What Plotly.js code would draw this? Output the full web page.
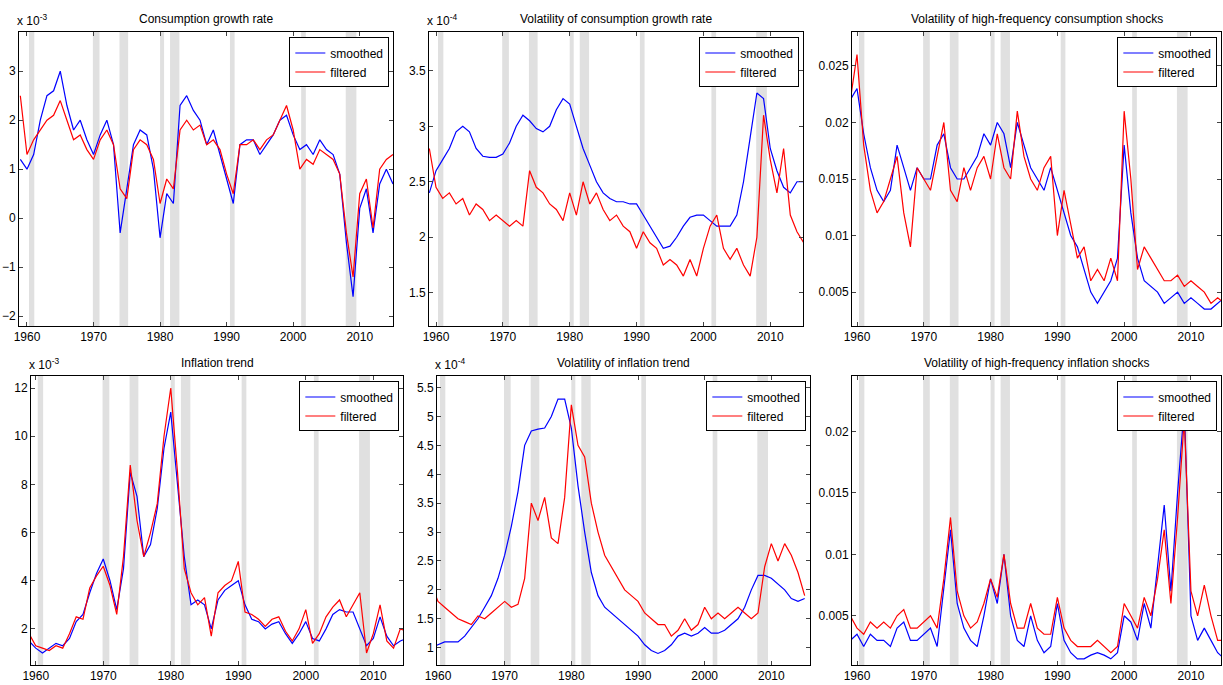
<!DOCTYPE html>
<html lang="en">
<head>
    <meta charset="UTF-8">
    <title>Volatility panels</title>
    <script src="https://cdn.plot.ly/plotly-3.0.1.min.js"></script>
    <style>body{margin:0;background:#fff}</style>
</head>
<body>
<div id="plot" style="width:1223px;height:685px"></div>
<script>
    years = []
    for (let y = 1959; y <= 2015; y++) years.push(y)

    recessions = [[1960.3, 1961.1], [1969.9, 1970.9], [1973.9, 1975.2], [1980.0, 1980.6], [1981.5, 1982.9], [1990.5, 1991.2], [2001.2, 2001.9], [2007.9, 2009.5]]

    titles = ['Consumption growth rate', 'Volatility of consumption growth rate', 'Volatility of high-frequency consumption shocks',
        'Inflation trend', 'Volatility of inflation trend', 'Volatility of high-frequency inflation shocks']
    scaleLabels = ['x 10<sup>-3</sup>', 'x 10<sup>-4</sup>', '', 'x 10<sup>-3</sup>', 'x 10<sup>-4</sup>', '']

    consSmoothed = [1.2,1.0,1.3,2.0,2.5,2.6,3.0,2.3,1.8,2.0,1.6,1.3,1.7,2.0,1.5,-0.3,0.6,1.5,1.8,1.7,1.0,-0.4,0.5,0.3,2.3,2.5,2.2,2.0,1.5,1.8,1.3,0.8,0.3,1.5,1.6,1.6,1.3,1.5,1.7,2.0,2.1,1.7,1.4,1.5,1.3,1.6,1.4,1.3,0.9,-0.5,-1.6,0.2,0.6,-0.3,0.7,1.0,0.7]
    consFiltered = [2.5,1.3,1.6,1.8,2.0,2.1,2.4,2.0,1.6,1.7,1.4,1.2,1.6,1.8,1.5,0.6,0.4,1.4,1.6,1.5,1.2,0.3,0.8,0.6,1.8,2.0,1.8,1.9,1.5,1.6,1.4,0.9,0.5,1.5,1.5,1.6,1.4,1.6,1.7,2.0,2.3,1.8,1.0,1.2,1.1,1.4,1.3,1.2,0.9,-0.3,-1.2,0.5,0.8,-0.2,1.0,1.2,1.3]
    consVolSmoothed = [2.4,2.6,2.7,2.8,2.95,3.0,2.95,2.8,2.73,2.72,2.72,2.75,2.85,3.0,3.1,3.05,2.98,2.95,3.0,3.15,3.25,3.2,3.0,2.8,2.65,2.5,2.4,2.35,2.32,2.32,2.3,2.3,2.2,2.1,2.0,1.9,1.92,2.0,2.1,2.18,2.2,2.2,2.15,2.1,2.1,2.1,2.2,2.5,2.9,3.3,3.25,2.8,2.6,2.45,2.4,2.5,2.5]
    consVolFiltered = [2.8,2.45,2.35,2.4,2.3,2.35,2.2,2.3,2.25,2.15,2.2,2.15,2.1,2.15,2.1,2.6,2.45,2.4,2.3,2.25,2.15,2.4,2.2,2.5,2.3,2.4,2.25,2.15,2.2,2.1,2.05,1.9,2.05,1.95,1.9,1.75,1.8,1.75,1.65,1.8,1.65,1.9,2.1,2.2,1.9,1.8,1.9,1.75,1.65,2.0,3.1,2.7,2.4,2.8,2.2,2.05,1.95]
    consHfSmoothed = [0.022,0.023,0.019,0.016,0.014,0.013,0.014,0.018,0.016,0.014,0.016,0.015,0.015,0.018,0.019,0.016,0.015,0.015,0.016,0.017,0.019,0.018,0.020,0.019,0.016,0.020,0.018,0.016,0.015,0.014,0.016,0.014,0.012,0.010,0.009,0.007,0.005,0.004,0.005,0.006,0.008,0.018,0.012,0.008,0.006,0.0055,0.005,0.004,0.0045,0.005,0.004,0.0045,0.004,0.0035,0.0035,0.004,0.0045]
    consHfFiltered = [0.022,0.026,0.018,0.014,0.012,0.013,0.015,0.017,0.012,0.009,0.016,0.015,0.014,0.017,0.020,0.014,0.013,0.016,0.014,0.016,0.017,0.015,0.019,0.016,0.015,0.021,0.017,0.015,0.014,0.016,0.017,0.010,0.014,0.011,0.008,0.009,0.006,0.007,0.006,0.008,0.006,0.021,0.015,0.007,0.009,0.008,0.007,0.006,0.006,0.0065,0.0055,0.006,0.0055,0.005,0.004,0.0045,0.004]
    inflSmoothed = [1.5,1.2,1.0,1.2,1.4,1.3,1.6,2.3,2.6,3.5,4.3,4.9,4.0,2.8,4.5,8.5,7.5,5.0,5.5,7.0,9.5,11.0,8.0,5.0,3.0,3.2,3.0,2.0,3.2,3.6,3.8,4.0,3.0,2.4,2.3,2.0,2.2,2.3,1.8,1.4,1.8,2.3,1.6,1.5,2.0,2.6,2.8,2.7,2.7,2.0,1.3,1.6,2.5,1.7,1.3,1.5,1.6]
    inflFiltered = [1.8,1.3,1.2,1.1,1.3,1.2,1.8,2.5,2.4,3.7,4.2,4.6,3.8,2.6,5.0,8.8,6.5,5.0,6.0,7.2,10.0,12.0,8.5,4.5,3.5,3.0,3.3,1.7,3.5,3.8,4.0,4.8,2.7,2.6,2.4,2.1,2.4,2.5,1.9,1.5,2.0,2.8,1.4,1.8,2.5,2.9,3.2,2.5,3.0,3.5,1.0,1.8,3.0,1.5,1.2,2.0,1.9]
    inflVolSmoothed = [1.0,1.05,1.1,1.1,1.1,1.2,1.35,1.5,1.7,1.9,2.2,2.6,3.1,3.7,4.5,4.75,4.78,4.8,5.0,5.3,5.3,4.8,3.8,3.0,2.3,1.9,1.7,1.6,1.5,1.4,1.3,1.2,1.05,0.95,0.9,0.95,1.05,1.2,1.25,1.2,1.25,1.35,1.25,1.25,1.3,1.4,1.5,1.7,2.0,2.25,2.25,2.2,2.1,2.0,1.85,1.8,1.85]
    inflVolFiltered = [2.1,1.8,1.7,1.6,1.5,1.45,1.4,1.55,1.5,1.6,1.7,1.8,1.7,1.75,2.2,3.5,3.2,3.6,2.9,2.8,3.6,5.2,4.5,4.3,3.5,3.0,2.6,2.4,2.2,2.0,1.9,1.8,1.6,1.5,1.4,1.4,1.2,1.3,1.5,1.3,1.4,1.7,1.5,1.6,1.5,1.6,1.7,1.6,1.5,1.6,2.4,2.8,2.5,2.8,2.6,2.3,1.9]
    inflHfSmoothed = [0.003,0.0035,0.0025,0.0035,0.003,0.003,0.0025,0.004,0.0045,0.003,0.003,0.0035,0.004,0.0025,0.007,0.012,0.006,0.004,0.003,0.0025,0.005,0.008,0.006,0.010,0.005,0.003,0.0025,0.005,0.003,0.002,0.0025,0.006,0.003,0.002,0.0015,0.0015,0.0018,0.002,0.0018,0.0015,0.002,0.005,0.0045,0.003,0.006,0.004,0.009,0.014,0.007,0.015,0.022,0.005,0.003,0.004,0.003,0.002,0.0015]
    inflHfFiltered = [0.005,0.004,0.0035,0.0045,0.004,0.0045,0.004,0.005,0.0055,0.004,0.004,0.0045,0.005,0.004,0.008,0.013,0.007,0.005,0.004,0.0045,0.006,0.008,0.0065,0.010,0.006,0.004,0.004,0.006,0.004,0.0035,0.0035,0.0065,0.004,0.003,0.0025,0.0025,0.0025,0.003,0.0025,0.002,0.0025,0.006,0.005,0.004,0.0065,0.005,0.008,0.012,0.006,0.013,0.021,0.007,0.005,0.0075,0.005,0.003,0.003]

    smoothedSets = [consSmoothed, consVolSmoothed, consHfSmoothed, inflSmoothed, inflVolSmoothed, inflHfSmoothed]
    filteredSets = [consFiltered, consVolFiltered, consHfFiltered, inflFiltered, inflVolFiltered, inflHfFiltered]
    yRanges = [[-2.2, 3.8], [1.2, 3.85], [0.002, 0.028], [0.5, 12.5], [0.7, 5.7], [0.001, 0.0245]]
    yDtick = [1, 0.5, 0.005, 2, 0.5, 0.005]
    xRanges = [[1958.8, 2015], [1958.95, 2014.9], [1959.25, 2014.5], [1959.3, 2014.4], [1959.85, 2015.8], [1959.25, 2014.5]]

    // panel boxes in pixels: left, right, top, bottom
    boxes = [[19, 393, 32, 326], [429, 803, 32, 326], [852, 1221, 32, 326],
        [31, 403, 376, 665], [437, 810, 376, 665], [852, 1221, 376, 665]]
    W = 1223; H = 685

    data = []
    layout = {
        width: W, height: H,
        margin: {l: 0, r: 0, t: 0, b: 0},
        paper_bgcolor: 'white', plot_bgcolor: 'white',
        font: {family: 'Liberation Sans, Arial', size: 12, color: 'black'},
        shapes: [], annotations: []
    }

    for (let i = 0; i < 6; i++) {
        const n = i === 0 ? '' : String(i + 1)
        const b = boxes[i]
        const xd = [b[0] / W, b[1] / W], yd = [1 - b[3] / H, 1 - b[2] / H]
        const lg = 'legend' + n
        data.push({x: years, y: smoothedSets[i], xaxis: 'x' + n, yaxis: 'y' + n, mode: 'lines', name: 'smoothed',
            line: {color: '#0000ff', width: 1.2}, legend: lg})
        data.push({x: years, y: filteredSets[i], xaxis: 'x' + n, yaxis: 'y' + n, mode: 'lines', name: 'filtered',
            line: {color: '#ff0000', width: 1.2}, legend: lg})

        const axCommon = {showline: true, mirror: 'ticks', linecolor: 'black', linewidth: 1, ticks: 'inside', ticklen: 4,
            showgrid: false, zeroline: false, tickfont: {size: 12}}
        layout['xaxis' + n] = Object.assign({}, axCommon, {domain: xd, range: xRanges[i], dtick: 10, tick0: 1960,
            anchor: 'y' + n})
        layout['yaxis' + n] = Object.assign({}, axCommon, {domain: yd, range: yRanges[i], dtick: yDtick[i],
            anchor: 'x' + n})
        layout[lg] = {x: xd[1] - 0.003, y: yd[1] - 0.008, xanchor: 'right', yanchor: 'top',
            bordercolor: 'black', borderwidth: 1, bgcolor: 'white', font: {size: 12},
            tracegroupgap: 0, itemwidth: 30}

        recessions.forEach(r => layout.shapes.push({type: 'rect', xref: 'x' + n, yref: 'y' + n + ' domain',
            x0: r[0], x1: r[1], y0: 0, y1: 1, fillcolor: '#e0e0e0', line: {width: 0}, layer: 'below'}))

        layout.annotations.push({text: titles[i], xref: 'paper', yref: 'paper', showarrow: false,
            x: (xd[0] + xd[1]) / 2, xanchor: 'center', y: yd[1] + 0.006, yanchor: 'bottom',
            font: {size: 12}})
        if (scaleLabels[i]) layout.annotations.push({text: scaleLabels[i], xref: 'paper', yref: 'paper', showarrow: false,
            x: xd[0] - 0.003, y: yd[1] + 0.003, xanchor: 'left', yanchor: 'bottom', font: {size: 12}})
    }

    Plotly.newPlot('plot', data, layout, {displayModeBar: false})
</script>
</body>
</html>
